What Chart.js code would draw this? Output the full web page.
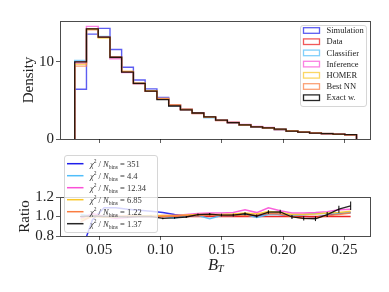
<!DOCTYPE html>
<html>
<head>
<meta charset="utf-8">
<script src="https://cdn.jsdelivr.net/npm/chart.js@4.4.1/dist/chart.umd.min.js"></script>
<style>
  html, body { margin: 0; padding: 0; background: #fff; }
  #wrap { position: relative; width: 389px; height: 292px; overflow: hidden; }
  canvas { position: absolute; left: 0; }
  #topChart { top: 0; }
  #ratioChart { top: 150px; }
</style>
</head>
<body>
<div id="wrap">
  <canvas id="topChart" width="389" height="150"></canvas>
  <canvas id="ratioChart" width="389" height="142"></canvas>
</div>
<script>
// B_T histograms (density) + ratio to data
const SERIF = "'Liberation Serif', 'DejaVu Serif', serif";
const AX = 'rgba(0,0,0,0.7)';

const binEdges = [0.0300, 0.0396, 0.0492, 0.0588, 0.0683, 0.0779, 0.0875, 0.0971, 0.1067,
  0.1163, 0.1258, 0.1354, 0.1450, 0.1546, 0.1642, 0.1738, 0.1833, 0.1929, 0.2025,
  0.2121, 0.2217, 0.2313, 0.2408, 0.2504, 0.2600];
const xTicks = [0.05, 0.10, 0.15, 0.20, 0.25];
const densityTicks = [0, 10];
const ratioTicks = [0.8, 1.0, 1.2];

// top panel, density per bin
const simulation = [6.45, 13.6, 14.35, 11.6, 9.3, 7.65, 6.5, 5.4, 4.45, 3.85, 3.35, 2.83, 2.42, 2.13, 1.81, 1.56, 1.43, 1.23, 1.05, 0.9, 0.78, 0.7, 0.62, 0.54];
const data       = [10.0, 14.2, 13.2, 10.6, 8.7, 7.2, 6.2, 5.2, 4.35, 3.8, 3.3, 2.8, 2.4, 2.1, 1.78, 1.56, 1.39, 1.21, 1.04, 0.9, 0.78, 0.69, 0.6, 0.52];
const classifier = [10.2, 14.3, 13.3, 10.5, 8.7, 7.2, 6.2, 5.25, 4.3, 3.82, 3.33, 2.75, 2.43, 2.12, 1.8, 1.55, 1.41, 1.23, 1.06, 0.92, 0.8, 0.71, 0.62, 0.54];
const inference  = [9.8, 14.6, 13.2, 10.4, 8.6, 7.2, 6.2, 5.25, 4.4, 3.88, 3.4, 2.9, 2.48, 2.18, 1.9, 1.62, 1.51, 1.28, 1.08, 0.93, 0.81, 0.72, 0.64, 0.56];
const homer      = [9.7, 14.2, 13.1, 10.55, 8.75, 7.25, 6.25, 5.25, 4.4, 3.85, 3.36, 2.86, 2.45, 2.15, 1.84, 1.6, 1.46, 1.26, 1.06, 0.92, 0.8, 0.71, 0.62, 0.55];
const bestNN     = [9.45, 14.3, 13.2, 10.6, 8.75, 7.2, 6.2, 5.2, 4.38, 3.83, 3.33, 2.84, 2.42, 2.13, 1.8, 1.58, 1.43, 1.24, 1.04, 0.88, 0.77, 0.7, 0.61, 0.54];
const exactW     = [10.0, 14.27, 13.2, 10.6, 8.66, 7.2, 6.2, 5.1, 4.28, 3.78, 3.37, 2.87, 2.44, 2.13, 1.83, 1.57, 1.45, 1.27, 1.03, 0.88, 0.76, 0.7, 0.645, 0.58];

// bottom panel, ratio to data per bin
const rSimulation = [0.62, 0.965, 1.09, 1.09, 1.075, 1.065, 1.055, 1.04, 1.02, 1.01, 1.015, 1.01, 1.01, 1.015, 1.02, 1.0, 1.03, 1.02, 1.005, 1.0, 0.995, 1.01, 1.03, 1.04];
const rData       = [1, 1, 1, 1, 1, 1, 1, 1, 1, 1, 1, 1, 1, 1, 1, 1, 1, 1, 1, 1, 1, 1, 1, 1];
const rClassifier = [1.02, 1.005, 1.005, 0.99, 1.0, 1.0, 1.0, 1.005, 0.985, 1.005, 1.01, 0.978, 1.01, 1.01, 1.02, 0.99, 1.02, 1.02, 1.015, 1.02, 1.03, 1.03, 1.035, 1.04];
const rInference  = [0.98, 1.03, 1.0, 0.98, 0.99, 1.0, 1.0, 1.01, 1.01, 1.02, 1.03, 1.035, 1.035, 1.04, 1.07, 1.04, 1.09, 1.06, 1.035, 1.035, 1.04, 1.05, 1.07, 1.075];
const rHomer      = [0.97, 1.0, 0.995, 0.995, 1.005, 1.005, 1.01, 1.01, 1.01, 1.015, 1.02, 1.02, 1.02, 1.025, 1.035, 1.025, 1.05, 1.04, 1.02, 1.02, 1.025, 1.035, 1.04, 1.055];
const rBestNN     = [0.945, 1.005, 1.0, 1.0, 1.005, 1.0, 1.0, 1.0, 1.005, 1.01, 1.01, 1.015, 1.01, 1.015, 1.01, 1.015, 1.03, 1.025, 1.0, 0.98, 0.985, 1.01, 1.02, 1.035];
const rExactW     = [1.0, 1.005, 1.0, 1.0, 0.995, 1.0, 1.0, 0.98, 0.985, 0.995, 1.02, 1.025, 1.015, 1.015, 1.028, 1.005, 1.045, 1.048, 0.995, 0.98, 0.977, 1.02, 1.075, 1.11];
const rExactErr   = [0.004, 0.004, 0.004, 0.005, 0.005, 0.006, 0.007, 0.008, 0.009, 0.01, 0.011, 0.012, 0.013, 0.014, 0.015, 0.016, 0.018, 0.02, 0.021, 0.022, 0.024, 0.026, 0.036, 0.044];

const names = ['Simulation', 'Data', 'Classifier', 'Inference', 'HOMER', 'Best NN', 'Exact w.'];
const colors = ['rgba(30,30,235,0.72)', 'rgba(235,25,25,0.72)', 'rgba(80,190,250,0.72)', 'rgba(250,80,215,0.72)',
  'rgba(250,200,40,0.72)', 'rgba(250,125,65,0.72)', 'rgba(0,0,0,0.85)'];
const chi2 = ['351', null, '4.4', '12.34', '6.85', '1.22', '1.37'];

const centers = binEdges.slice(1).map((e, i) => (e + binEdges[i]) / 2);

function stepPoints(vals) {
  const last = binEdges.length - 1;
  const pts = [{x: binEdges[0], y: 0}];
  vals.forEach((v, i) => pts.push({x: binEdges[i], y: v}));
  pts.push({x: binEdges[last], y: vals[vals.length - 1]});
  pts.push({x: binEdges[last], y: 0});
  return pts;
}

// frame around plot area
const framePlugin = {
  id: 'frame',
  afterDatasetsDraw(chart) {
    const {ctx, chartArea: a} = chart;
    ctx.save();
    ctx.strokeStyle = AX;
    ctx.lineWidth = 1;
    ctx.strokeRect(Math.round(a.left) + 0.5, Math.round(a.top) + 0.5, Math.round(a.right - a.left), Math.round(a.bottom - a.top));
    ctx.restore();
  }
};

function legendBox(ctx, x, y, w, h) {
  ctx.save();
  ctx.beginPath();
  ctx.roundRect(x + 0.5, y + 0.5, w, h, 2.5);
  ctx.fillStyle = 'rgba(255,255,255,0.8)';
  ctx.fill();
  ctx.strokeStyle = 'rgba(210,210,210,0.9)';
  ctx.lineWidth = 1;
  ctx.stroke();
  ctx.restore();
}

const topLegend = {
  id: 'topLegend',
  afterDraw(chart) {
    const ctx = chart.ctx;
    legendBox(ctx, 300, 25, 66, 81);
    ctx.save();
    ctx.font = '8.5px ' + SERIF;
    ctx.textBaseline = 'middle';
    names.forEach((n, i) => {
      const cy = 30.5 + i * 11.2;
      ctx.strokeStyle = colors[i];
      ctx.lineWidth = 1.3;
      ctx.strokeRect(303.5, cy - 2.8, 16, 5.6);
      ctx.fillStyle = '#222';
      ctx.fillText(n, 326.5, cy + 0.5);
    });
    ctx.restore();
  }
};

const ratioLegend = {
  id: 'ratioLegend',
  afterDraw(chart) {
    const ctx = chart.ctx;
    legendBox(ctx, 64, 5, 93, 77);
    ctx.save();
    ctx.textBaseline = 'alphabetic';
    const entries = [0, 2, 3, 4, 5, 6];
    entries.forEach((si, i) => {
      const cy = 13.7 + i * 12.0;
      ctx.strokeStyle = colors[si].replace('0.72', '1');
      ctx.lineWidth = 1.5;
      ctx.beginPath();
      ctx.moveTo(67, cy);
      ctx.lineTo(83.5, cy);
      ctx.stroke();
      ctx.fillStyle = '#333';
      let x = 90;
      const base = cy + 3;
      const put = (t, font, dy) => {
        ctx.font = font;
        ctx.fillText(t, x, base + dy);
        x += ctx.measureText(t).width;
      };
      put('\u03C7', 'italic 8.5px ' + SERIF, 0);
      put('2', '5.5px ' + SERIF, -3.5);
      put(' / ', '8.5px ' + SERIF, 0);
      put('N', 'italic 8.5px ' + SERIF, 0);
      put('bins', '5.5px ' + SERIF, 1.8);
      put(' = ' + chi2[si], '8.5px ' + SERIF, 0);
    });
    ctx.restore();
  }
};

const errorBars = {
  id: 'errorBars',
  afterDatasetsDraw(chart) {
    const {ctx, scales: {x, y}} = chart;
    ctx.save();
    ctx.strokeStyle = 'rgba(0,0,0,0.9)';
    ctx.lineWidth = 1.1;
    centers.forEach((c, i) => {
      const px = x.getPixelForValue(c);
      ctx.beginPath();
      ctx.moveTo(px, y.getPixelForValue(rExactW[i] - rExactErr[i]));
      ctx.lineTo(px, y.getPixelForValue(rExactW[i] + rExactErr[i]));
      ctx.stroke();
    });
    ctx.restore();
  }
};

const xTitle = {
  id: 'xTitle',
  afterDraw(chart) {
    const ctx = chart.ctx;
    ctx.save();
    ctx.fillStyle = '#222';
    ctx.textBaseline = 'alphabetic';
    ctx.font = 'italic 16.5px ' + SERIF;
    const wB = ctx.measureText('B').width;
    ctx.font = 'italic 11px ' + SERIF;
    const wT = ctx.measureText('T').width;
    const x0 = 216 - (wB + wT) / 2;
    ctx.font = 'italic 16.5px ' + SERIF;
    ctx.fillText('B', x0, 120);
    ctx.font = 'italic 11px ' + SERIF;
    ctx.fillText('T', x0 + wB - 0.5, 122);
    ctx.restore();
  }
};

Chart.defaults.font.family = SERIF;
Chart.defaults.color = '#222';

const tickGrid = {drawOnChartArea: false, tickLength: 4, color: AX, tickWidth: 0.9};

new Chart(document.getElementById('topChart'), {
  type: 'line',
  data: {
    datasets: names.map((n, i) => ({
      label: n,
      data: stepPoints([simulation, data, classifier, inference, homer, bestNN, exactW][i]),
      borderColor: colors[i],
      borderWidth: i === 6 ? 1.3 : 1.4,
      stepped: 'before',
      pointRadius: 0,
      fill: false,
      order: 6 - i
    }))
  },
  options: {
    responsive: false,
    animation: false,
    events: [],
    layout: {padding: {top: 21, right: 19, left: 0, bottom: 0}},
    plugins: {legend: {display: false}, tooltip: {enabled: false}},
    scales: {
      x: {
        type: 'linear', min: 0.018, max: 0.271,
        afterBuildTicks: s => { s.ticks = xTicks.map(v => ({value: v})); },
        ticks: {display: false},
        grid: tickGrid,
        border: {display: false},
        afterFit: s => { s.height = 11; }
      },
      y: {
        min: 0, max: 15.3,
        afterBuildTicks: s => { s.ticks = densityTicks.map(v => ({value: v})); },
        ticks: {font: {size: 15}, padding: 2, autoSkip: false, callback: v => String(v)},
        grid: tickGrid,
        border: {display: false},
        title: {display: true, text: 'Density', font: {size: 15}, padding: {top: 20, bottom: 0}},
        afterFit: s => { s.width = 60; }
      }
    }
  },
  plugins: [framePlugin, topLegend]
});

const ratioSeries = [rSimulation, rData, rClassifier, rInference, rHomer, rBestNN, rExactW];
new Chart(document.getElementById('ratioChart'), {
  type: 'line',
  data: {
    datasets: names.map((n, i) => ({
      label: n,
      data: centers.map((c, k) => ({x: c, y: ratioSeries[i][k]})),
      borderColor: colors[i].replace('0.72', i === 1 ? '0.95' : '0.9'),
      borderWidth: i === 6 ? 1.3 : 1.5,
      pointRadius: 0,
      fill: false,
      order: 6 - i
    }))
  },
  options: {
    responsive: false,
    animation: false,
    events: [],
    layout: {padding: {top: 47, right: 19, left: 0, bottom: 0}},
    plugins: {legend: {display: false}, tooltip: {enabled: false}},
    scales: {
      x: {
        type: 'linear', min: 0.018, max: 0.271,
        afterBuildTicks: s => { s.ticks = xTicks.map(v => ({value: v})); },
        ticks: {font: {size: 15}, padding: 1, autoSkip: false, maxRotation: 0, callback: v => v.toFixed(2)},
        grid: tickGrid,
        border: {display: false},
        afterFit: s => { s.height = 56; }
      },
      y: {
        min: 0.8, max: 1.2,
        afterBuildTicks: s => { s.ticks = ratioTicks.map(v => ({value: v})); },
        ticks: {font: {size: 15}, padding: 2, autoSkip: false, callback: v => v.toFixed(1)},
        grid: tickGrid,
        border: {display: false},
        title: {display: true, text: 'Ratio', font: {size: 15}, padding: {top: 16, bottom: 0}},
        afterFit: s => { s.width = 60; }
      }
    }
  },
  plugins: [framePlugin, errorBars, ratioLegend, xTitle]
});
</script>
</body>
</html>
